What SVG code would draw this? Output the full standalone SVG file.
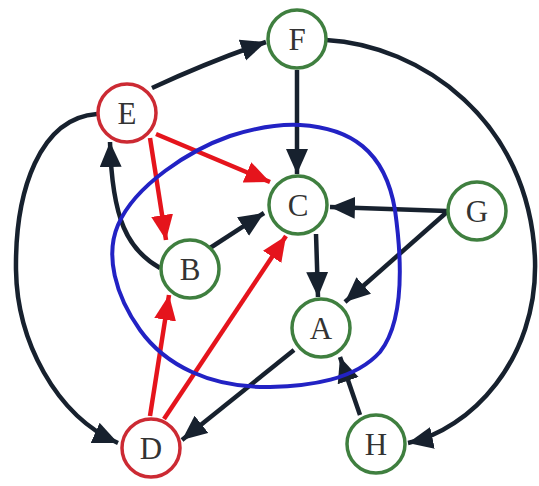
<svg xmlns="http://www.w3.org/2000/svg" width="539" height="486" viewBox="0 0 539 486">
<style>
.e{fill:none;stroke:#17212e;stroke-width:4.5}
.r{fill:none;stroke:#e5141c;stroke-width:4.5}
.n circle{fill:#fff;stroke-width:3.5}
.g circle{stroke:#3f7f3f}
.rd circle{stroke:#cc2a33}
.n text{font-family:"Liberation Serif","DejaVu Serif",serif;font-size:31px;fill:#333;text-anchor:middle}
</style>
<defs>
<marker id="ab" markerUnits="userSpaceOnUse" markerWidth="28" markerHeight="24" refX="25" refY="11" orient="auto"><path d="M0,0 L25,11 L0,22 z" fill="#17212e"/></marker>
<marker id="ar" markerUnits="userSpaceOnUse" markerWidth="28" markerHeight="24" refX="25" refY="11" orient="auto"><path d="M0,0 L25,11 L0,22 z" fill="#e5141c"/></marker>
</defs>
<rect width="539" height="486" fill="#fff"/>
<g id="edges">
<path class="e" d="M152,88 Q208,62 266,42" marker-end="url(#ab)"/>
<path class="e" d="M297,70 L297,174" marker-end="url(#ab)"/>
<path class="e" d="M326,40 C420,45 530,120 535,260 C538,360 470,430 408,443" marker-end="url(#ab)"/>
<path class="e" d="M97,114 C40,118 15,190 16,270 C17,340 55,415 118,443" marker-end="url(#ab)"/>
<path class="e" d="M160,268 C128,250 112,220 110,142" marker-end="url(#ab)"/>
<path class="r" d="M150,138 L166,240" marker-end="url(#ar)"/>
<path class="r" d="M156,134 L270,182" marker-end="url(#ar)"/>
<path class="e" d="M210,248 L264,213" marker-end="url(#ab)"/>
<path class="e" d="M447,211 L330,207" marker-end="url(#ab)"/>
<path class="e" d="M447,212 L345,302" marker-end="url(#ab)"/>
<path class="e" d="M316,234 L318,297" marker-end="url(#ab)"/>
<path class="r" d="M150,416 L169,295" marker-end="url(#ar)"/>
<path class="r" d="M164,419 L286,236" marker-end="url(#ar)"/>
<path class="e" d="M294,350 L182,440" marker-end="url(#ab)"/>
<path class="e" d="M360,415 L340,357" marker-end="url(#ab)"/>
</g>
<path id="region" d="M300,125 C350,128 385,150 395,210 C402,260 405,320 380,352 C355,380 310,386 270,387 C210,388 165,365 140,330 C115,295 105,255 118,225 C135,185 190,150 230,136 C255,128 280,124 300,125 Z" fill="none" stroke="#2222c4" stroke-width="4"/>
<g id="F" class="n g"><circle cx="297" cy="39" r="29"/><text x="297" y="50">F</text></g>
<g id="E" class="n rd"><circle cx="127" cy="113" r="29"/><text x="127" y="124">E</text></g>
<g id="C" class="n g"><circle cx="298" cy="205" r="29"/><text x="298" y="216">C</text></g>
<g id="G" class="n g"><circle cx="477" cy="211" r="29"/><text x="477" y="222">G</text></g>
<g id="B" class="n g"><circle cx="190" cy="269" r="29"/><text x="190" y="280">B</text></g>
<g id="A" class="n g"><circle cx="321" cy="328" r="29"/><text x="321" y="339">A</text></g>
<g id="D" class="n rd"><circle cx="151" cy="448" r="29"/><text x="151" y="459">D</text></g>
<g id="H" class="n g"><circle cx="376" cy="444" r="29"/><text x="376" y="455">H</text></g>
</svg>
